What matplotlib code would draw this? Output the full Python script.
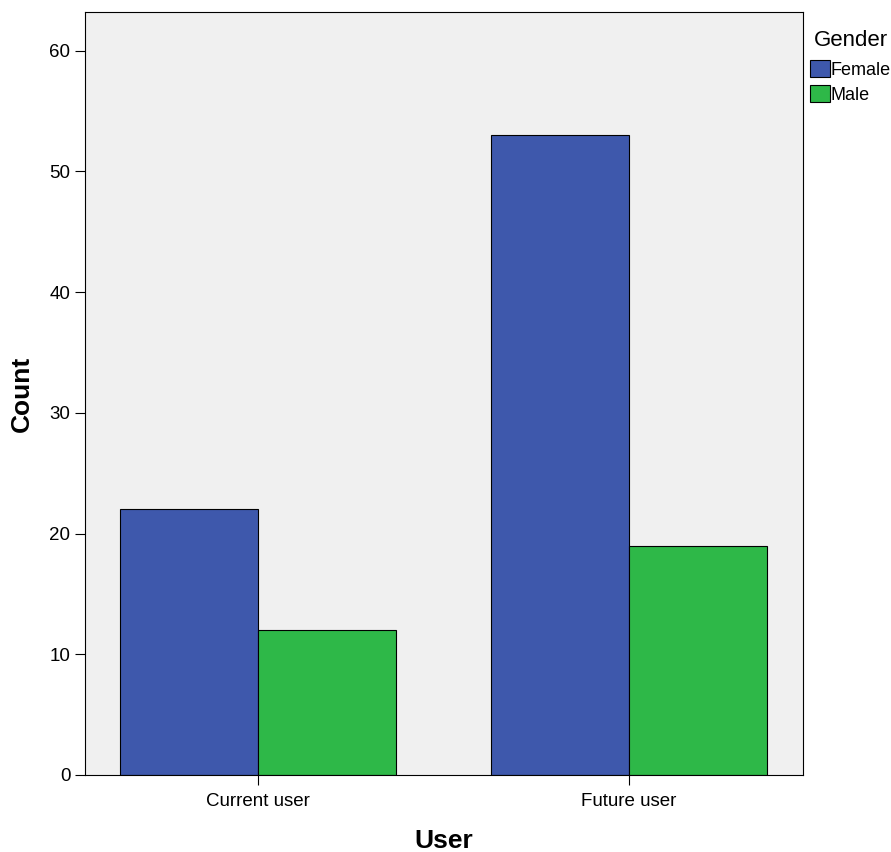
import matplotlib.pyplot as plt
import numpy as np

plt.rcParams['font.family'] = ['Liberation Sans', 'DejaVu Sans']

# data
categories = ['Current user', 'Future user']
female = [22, 53]
male = [12, 19]

fig = plt.figure(figsize=(8.91, 8.52), dpi=100)
ax = fig.add_axes([0.0954, 0.0904, 0.9012 - 0.0954, 0.9859 - 0.0904])
ax.set_facecolor('#F0F0F0')

x = np.arange(len(categories))
w = 0.372
ax.bar(x - w / 2, female, w, color='#3E58AC', edgecolor='black', linewidth=0.8, label='Female')
ax.bar(x + w / 2, male, w, color='#2EB848', edgecolor='black', linewidth=0.8, label='Male')

ax.set_xlim(-0.466, 1.469)
ax.set_ylim(0, 63.2)
ax.set_yticks([0, 10, 20, 30, 40, 50, 60])
ax.set_xticks(x)
ax.set_xticklabels(categories)
ax.tick_params(axis='both', direction='out', length=7, width=0.8, labelsize=13.5)
ax.tick_params(axis='x', pad=6)

for s in ax.spines.values():
    s.set_linewidth(0.8)

ax.set_ylabel('Count', fontsize=19, fontweight='bold', labelpad=11)
ax.set_xlabel('User', fontsize=19, fontweight='bold', labelpad=14)

leg = ax.legend(title='Gender', loc='upper left', bbox_to_anchor=(0.995, 0.99),
                frameon=False, fontsize=13, title_fontsize=16,
                handlelength=1.1, handleheight=1.1, handletextpad=0.05,
                labelspacing=0.35, borderaxespad=0.2)
leg._legend_box.sep = 6
for h in leg.legend_handles:
    h.set_edgecolor('black')

fig.savefig('out.png', dpi=100)
